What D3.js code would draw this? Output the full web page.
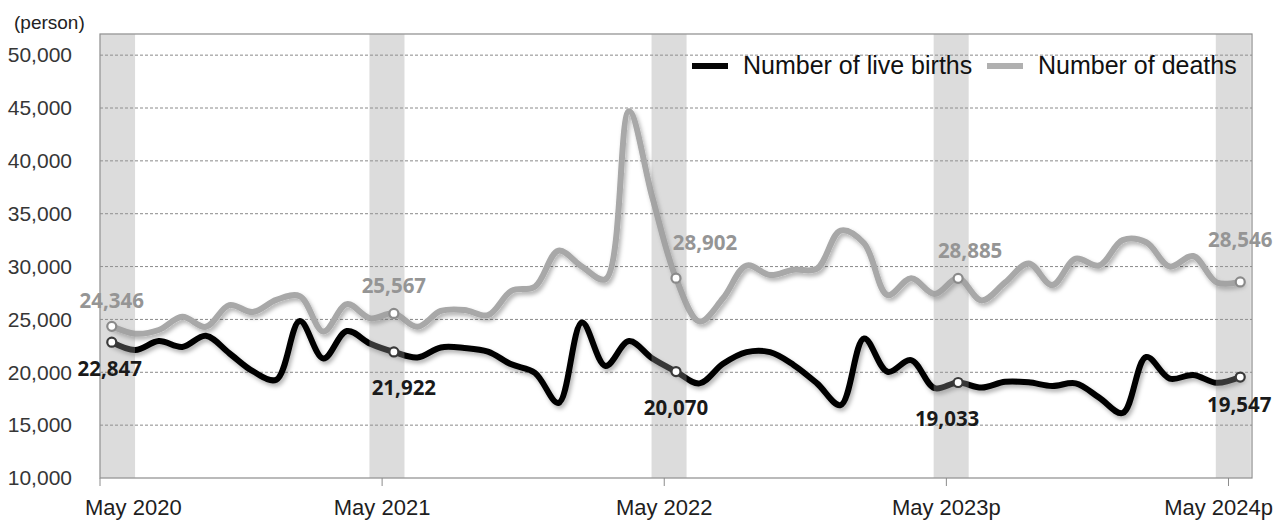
<!DOCTYPE html>
<html>
<head>
<meta charset="utf-8">
<script src="https://cdn.jsdelivr.net/npm/d3@7"></script>
<style>
  html, body { margin: 0; padding: 0; background: #ffffff; }
  svg { display: block; }
</style>
</head>
<body>
<svg id="chart" width="1285" height="520"></svg>
<script>
// ---------------- DATA ----------------
const months = d3.timeMonth.range(new Date(2020, 4, 1), new Date(2024, 5, 1)); // May 2020 .. May 2024 (49 months)

const births = [
  22847, 22100, 22950, 22400, 23450, 21800, 20100, 19300, 24850, 21300, 23900, 22700,
  21922, 21400, 22350, 22300, 21950, 20750, 19950, 17100, 24700, 20600, 22950, 21300,
  20070, 18950, 20800, 21900, 21900, 20700, 18950, 16900, 23200, 20050, 21150, 18500,
  19033, 18550, 19100, 19050, 18700, 18950, 17600, 16150, 21450, 19400, 19750, 19000,
  19547
];

const deaths = [
  24346, 23650, 24000, 25250, 24300, 26350, 25700, 26850, 27200, 23850, 26450, 25100,
  25567, 24300, 25800, 25900, 25400, 27700, 28100, 31500, 30000, 28800, 44700, 36500,
  28902, 24800, 27000, 30100, 29200, 29700, 29800, 33400, 32200, 27300, 28900, 27400,
  28885, 26800, 28500, 30300, 28250, 30750, 30100, 32500, 32300, 30000, 31000, 28500,
  28546
];

const highlightIdx = [0, 12, 24, 36, 48];
const xTickLabels = ["May 2020", "May 2021", "May 2022", "May 2023p", "May 2024p"];
const yTicks = [10000, 15000, 20000, 25000, 30000, 35000, 40000, 45000, 50000];
const seriesNames = ["Number of live births", "Number of deaths"];

// label offsets (layout only): [dx, dy baseline] relative to marker
const birthLabelOffset = [[-2, 34], [10, 43], [0, 43], [-11, 43], [-1, 35]];
const deathLabelOffset = [[0, -18], [0, -20], [29, -28], [12, -20], [0, -35]];

// ---------------- LAYOUT ----------------
(function () {
const svg = d3.select("#chart");
const pL = 100, pR = 1252, pT = 34, pB = 478;

const x = d3.scaleBand().domain(d3.range(months.length)).range([pL, pR]).padding(0);
const bw = x.bandwidth();
const cx = i => x(i) + bw / 2;
const y = d3.scaleLinear().domain([10000, 52000]).range([pB, pT]);

// defs: shadow
const defs = svg.append("defs");
const f = defs.append("filter").attr("id", "shadow").attr("x", "-10%").attr("y", "-20%").attr("width", "120%").attr("height", "140%");
f.append("feDropShadow").attr("dx", 2).attr("dy", 3).attr("stdDeviation", 2)
  .attr("flood-color", "#000").attr("flood-opacity", 0.3);

// gridlines
svg.append("g").selectAll("line")
  .data(yTicks.filter(t => t > 10000))
  .join("line")
  .attr("x1", pL).attr("x2", pR)
  .attr("y1", d => y(d)).attr("y2", d => y(d))
  .attr("stroke", "#8a8a8a").attr("stroke-width", 1).attr("stroke-dasharray", "3,2");

// plot border
svg.append("rect")
  .attr("x", pL).attr("y", pT).attr("width", pR - pL).attr("height", pB - pT)
  .attr("fill", "none").attr("stroke", "#8c8c8c").attr("stroke-width", 1.2);

// y axis labels
const yAxis = d3.axisLeft(y).tickValues(yTicks).tickFormat(d3.format(",")).tickSize(0).tickPadding(28);
const gy = svg.append("g").attr("transform", `translate(${pL},0)`).call(yAxis);
gy.select(".domain").remove();
gy.selectAll("text")
  .attr("font-family", "'Liberation Sans', Arial, sans-serif")
  .attr("font-size", 21).attr("fill", "#363636");

svg.append("text").attr("x", 14).attr("y", 29)
  .attr("font-family", "'Liberation Sans', Arial, sans-serif")
  .attr("font-size", 19).attr("fill", "#222").text("(person)");

// x axis ticks & labels
const gx = svg.append("g");
gx.selectAll("line").data(highlightIdx).join("line")
  .attr("x1", d => x(d)).attr("x2", d => x(d))
  .attr("y1", pB).attr("y2", pB + 8)
  .attr("stroke", "#8c8c8c").attr("stroke-width", 1);
gx.selectAll("text").data(highlightIdx).join("text")
  .attr("x", d => x(d)).attr("y", 515)
  .attr("text-anchor", "middle")
  .attr("font-family", "'Liberation Sans', Arial, sans-serif")
  .attr("font-size", 22).attr("fill", "#1e1e1e")
  .text((d, i) => xTickLabels[i])
  .each(function(d) {
    const b = this.getBBox();
    let shift = 0;
    if (b.x < 85) shift = 85 - b.x;
    if (b.x + b.width > 1273) shift = 1273 - (b.x + b.width);
    d3.select(this).attr("x", x(d) + shift);
  });

// lines
const line = d3.line().x((d, i) => cx(i)).y(d => y(d)).curve(d3.curveCatmullRom.alpha(0.5));
svg.append("path").datum(deaths)
  .attr("d", line).attr("fill", "none")
  .attr("stroke", "#a8a8a8").attr("stroke-width", 6)
  .attr("stroke-linejoin", "round").attr("stroke-linecap", "round")
  .attr("filter", "url(#shadow)");
svg.append("path").datum(births)
  .attr("d", line).attr("fill", "none")
  .attr("stroke", "#050505").attr("stroke-width", 6)
  .attr("stroke-linejoin", "round").attr("stroke-linecap", "round")
  .attr("filter", "url(#shadow)");

// highlight bands (translucent, on top of lines)
svg.append("g").selectAll("rect").data(highlightIdx).join("rect")
  .attr("x", d => {
    const w = bw * 1.49;
    let x0 = x(d) - bw * 0.54;
    x0 = Math.max(pL, Math.min(pR - w, x0));
    return x0;
  })
  .attr("y", pT).attr("width", bw * 1.49).attr("height", pB - pT)
  .attr("fill", "rgb(156,156,156)").attr("fill-opacity", 0.35);

// markers
svg.append("g").selectAll("circle").data(highlightIdx).join("circle")
  .attr("cx", d => cx(d)).attr("cy", d => y(deaths[d])).attr("r", 4.5)
  .attr("fill", "#fff").attr("stroke", "#8a8a8a").attr("stroke-width", 2.2);
svg.append("g").selectAll("circle").data(highlightIdx).join("circle")
  .attr("cx", d => cx(d)).attr("cy", d => y(births[d])).attr("r", 4.5)
  .attr("fill", "#fff").attr("stroke", "#3a3a3a").attr("stroke-width", 2.2);

// data labels
const fmt = d3.format(",");
svg.append("g").selectAll("text").data(highlightIdx).join("text")
  .attr("x", (d, i) => cx(d) + deathLabelOffset[i][0])
  .attr("y", (d, i) => y(deaths[d]) + deathLabelOffset[i][1])
  .attr("text-anchor", "middle")
  .attr("font-family", "'Noto Sans', 'Open Sans', sans-serif")
  .attr("font-weight", "bold").attr("font-size", 20.5).attr("fill", "#959595")
  .text(d => fmt(deaths[d]));
svg.append("g").selectAll("text").data(highlightIdx).join("text")
  .attr("x", (d, i) => cx(d) + birthLabelOffset[i][0])
  .attr("y", (d, i) => y(births[d]) + birthLabelOffset[i][1])
  .attr("text-anchor", "middle")
  .attr("font-family", "'Noto Sans', 'Open Sans', sans-serif")
  .attr("font-weight", "bold").attr("font-size", 20.5).attr("fill", "#1a1a1a")
  .text(d => fmt(births[d]));

// legend
const lg = svg.append("g");
lg.append("line").attr("x1", 692).attr("x2", 728).attr("y1", 66).attr("y2", 66)
  .attr("stroke", "#050505").attr("stroke-width", 6);
lg.append("text").attr("x", 743).attr("y", 74)
  .attr("font-family", "'Liberation Sans', Arial, sans-serif")
  .attr("font-size", 25).attr("fill", "#111").text(seriesNames[0]);
lg.append("line").attr("x1", 987).attr("x2", 1023).attr("y1", 66).attr("y2", 66)
  .attr("stroke", "#b0b0b0").attr("stroke-width", 6);
lg.append("text").attr("x", 1038).attr("y", 74)
  .attr("font-family", "'Liberation Sans', Arial, sans-serif")
  .attr("font-size", 25).attr("fill", "#111").text(seriesNames[1]);
})();
</script>
</body>
</html>
